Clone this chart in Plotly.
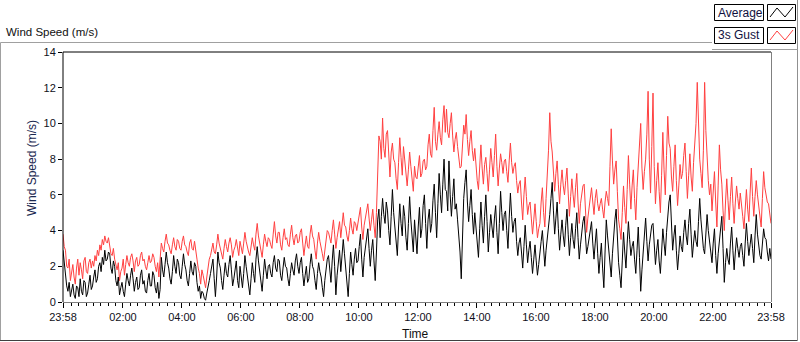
import pandas as pd
import plotly.graph_objects as go

# ---- data (2.5-minute samples, 23:58 -> 23:58 next day), one row per hour ----
start_time = "2024-05-01 23:58"
sample_step = "150s"

average = [
    2.9, 2.2, 1.4, 0.9, 0.6, 1.1, 0.3, 0.7, 1.0, 0.4, 0.2, 0.9, 0.8, 0.3, 1.3, 0.6, 0.4, 1.2, 1.1, 0.3, 0.5, 1.0, 1.5, 0.7,
    0.9, 1.4, 1.8, 1.1, 1.3, 2.0, 2.2, 1.7, 2.5, 2.1, 2.9, 2.3, 2.4, 2.8, 2.7, 1.9, 1.6, 2.3, 2.0, 1.2, 0.9, 1.4, 0.4, 0.8,
    1.1, 0.6, 0.3, 1.0, 1.6, 1.2, 0.9, 1.5, 1.9, 1.3, 0.6, 1.1, 1.4, 0.7, 0.8, 1.5, 1.8, 1.0, 1.2, 0.6, 0.5, 1.2, 1.6, 0.9,
    0.9, 1.7, 1.5, 0.8, 0.5, 1.1, 0.2, 0.7, 2.5, 1.8, 1.4, 2.1, 2.8, 2.2, 1.9, 1.3, 1.0, 1.7, 2.6, 2.0, 1.6, 2.4, 2.2, 1.5,
    1.3, 2.0, 2.7, 2.1, 1.8, 1.2, 0.9, 1.6, 2.3, 1.7, 1.5, 2.2, 2.0, 1.1, 0.6, 0.9, 0.2, 0.6, 0.5, 0.2, 0.1, 0.5, 0.8, 1.2,
    1.6, 2.1, 2.4, 1.3, 0.3, 1.4, 2.8, 2.2, 1.9, 1.2, 0.7, 1.5, 2.2, 1.6, 1.4, 2.1, 2.6, 1.8, 0.9, 1.3, 1.8, 2.3, 1.2, 0.8,
    2.0, 1.4, 0.8, 1.6, 2.6, 2.0, 1.5, 0.9, 0.4, 1.3, 2.2, 1.6, 1.1, 2.4, 3.1, 2.3, 1.7, 1.0, 0.6, 1.5, 2.4, 1.8, 1.3, 2.0,
    2.1, 1.6, 1.4, 2.2, 2.6, 1.9, 1.7, 2.4, 2.3, 1.5, 1.2, 1.9, 2.5, 2.0, 1.9, 1.3, 0.9, 1.6, 2.2, 1.8, 1.5, 2.3, 2.7, 2.0,
    1.6, 2.2, 2.5, 1.6, 0.9, 1.5, 2.0, 1.1, 1.3, 2.1, 2.7, 2.0, 1.8, 1.2, 0.7, 1.6, 2.2, 1.7, 1.4, 0.8, 0.3, 1.2, 1.9, 2.4,
    2.6, 1.8, 1.1, 2.3, 3.2, 2.0, 0.4, 1.5, 2.4, 2.9, 1.7, 2.5, 3.5, 2.7, 2.0, 1.1, 0.3, 1.6, 2.8, 2.1, 1.5, 2.4, 3.0, 2.2,
    2.3, 3.1, 3.8, 2.4, 1.4, 2.5, 3.0, 3.7, 4.1, 3.0, 2.0, 2.9, 3.5, 2.3, 1.2, 2.8, 4.6, 5.2, 3.6, 4.8, 5.8, 4.9, 4.4, 5.6,
    5.1, 4.0, 3.2, 4.8, 6.3, 5.0, 4.0, 3.1, 2.6, 4.2, 5.5, 4.4, 3.7, 5.4, 4.8, 3.6, 2.9, 4.4, 5.9, 4.6, 3.4, 2.8, 4.6, 3.5,
    2.7, 4.2, 5.3, 3.6, 4.1, 5.4, 6.0, 4.4, 3.0, 4.6, 5.2, 3.9, 4.4, 5.7, 6.6, 5.0, 3.6, 5.5, 7.2, 6.0, 5.0, 6.6, 8.0, 6.3,
    6.2, 5.1, 7.9, 6.0, 4.8, 5.9, 6.9, 5.2, 5.5, 4.6, 3.9, 2.8, 1.3, 4.0, 5.8, 6.7, 7.4, 5.6, 4.5, 5.4, 6.3, 4.9, 3.8, 5.0,
    4.2, 3.2, 2.5, 4.1, 5.6, 4.3, 3.3, 4.8, 6.0, 4.5, 2.8, 3.9, 4.9, 4.2, 3.6, 4.7, 5.4, 3.9, 2.7, 4.4, 6.2, 5.0, 4.0, 4.9,
    5.1, 4.0, 3.0, 4.7, 6.1, 4.8, 3.9, 4.5, 4.7, 3.4, 2.6, 3.3, 3.6, 2.8, 1.9, 3.1, 4.3, 3.2, 2.2, 2.9, 3.4, 2.5, 1.6, 2.4,
    3.2, 2.3, 1.5, 2.1, 2.6, 3.4, 4.0, 2.8, 2.0, 2.9, 3.5, 4.3, 4.9, 5.8, 6.7, 5.1, 3.8, 4.7, 5.6, 4.1, 2.9, 3.8, 4.6, 3.7,
    3.1, 4.3, 5.2, 3.8, 2.6, 3.6, 4.4, 3.5, 3.0, 4.1, 5.0, 3.6, 2.4, 3.2, 3.9, 4.5, 4.8, 3.6, 2.7, 3.1, 3.6, 4.2, 4.5, 3.3,
    2.4, 3.3, 4.1, 2.7, 1.6, 2.5, 3.3, 1.9, 0.8, 2.8, 4.6, 3.7, 3.0, 2.1, 1.4, 2.7, 3.8, 4.6, 5.2, 3.6, 2.2, 1.5, 0.8, 2.3,
    3.9, 2.8, 1.9, 3.3, 4.5, 3.5, 2.6, 3.1, 3.4, 2.4, 1.6, 2.9, 4.2, 2.5, 0.6, 1.8, 3.0, 4.1, 4.7, 3.4, 2.3, 3.2, 3.8, 4.3,
    4.4, 3.0, 2.1, 2.9, 3.5, 2.3, 1.6, 2.8, 4.1, 3.3, 2.6, 3.9, 5.0, 5.6, 6.0, 4.2, 2.9, 3.7, 4.3, 2.9, 1.8, 2.7, 3.7, 3.1,
    2.8, 3.9, 4.6, 3.7, 3.2, 4.4, 5.2, 3.8, 2.5, 3.3, 4.0, 3.4, 3.1, 4.5, 5.8, 4.6, 3.6, 3.0, 2.7, 3.9, 4.9, 4.0, 3.3, 2.6,
    2.2, 3.3, 4.1, 2.6, 1.6, 2.7, 3.4, 4.2, 4.8, 3.0, 1.1, 2.2, 3.0, 2.4, 2.1, 3.3, 4.2, 2.9, 1.8, 2.8, 3.6, 3.0, 2.5, 3.1,
    3.3, 2.6, 2.0, 3.3, 4.4, 3.4, 2.6, 3.2, 3.8, 3.0, 2.2, 3.7, 4.9, 3.8, 3.0, 2.6, 2.4, 3.3, 4.1, 3.6, 3.5, 2.8, 2.3, 3.0,
    2.4,
]

gust_3s = [
    3.8, 3.1, 2.9, 2.0, 1.9, 2.4, 1.2, 1.7, 2.1, 1.4, 1.0, 1.9, 2.4, 1.5, 2.2, 1.8, 1.3, 2.3, 2.5, 1.7, 1.6, 2.2, 2.4, 1.9,
    2.3, 2.0, 2.6, 2.3, 2.9, 2.6, 3.2, 2.9, 3.5, 3.2, 3.7, 3.4, 3.3, 3.6, 3.0, 2.7, 2.6, 3.0, 2.4, 2.0, 1.8, 2.2, 1.2, 1.7,
    1.9, 2.4, 1.5, 2.1, 2.6, 2.2, 2.0, 2.5, 2.7, 2.3, 1.7, 2.3, 2.5, 2.0, 2.1, 2.6, 2.8, 2.3, 2.4, 2.0, 1.8, 2.2, 2.6, 2.2,
    2.3, 2.7, 2.5, 2.0, 1.7, 2.2, 1.4, 2.4, 3.3, 3.0, 2.8, 3.4, 3.8, 3.3, 3.2, 2.9, 2.7, 3.2, 3.6, 3.1, 2.9, 3.5, 3.4, 3.0,
    2.9, 3.4, 3.7, 3.2, 3.1, 2.8, 2.6, 3.3, 3.5, 3.0, 2.9, 3.4, 3.0, 2.4, 1.9, 1.6, 1.0, 1.8, 1.5, 1.1, 0.8, 1.4, 2.0, 2.4,
    2.6, 3.1, 3.3, 2.8, 2.7, 3.2, 3.8, 3.3, 3.0, 2.8, 2.4, 3.0, 3.5, 3.1, 2.8, 3.3, 3.6, 3.2, 2.5, 2.9, 3.1, 3.5, 2.9, 2.6,
    3.4, 3.0, 2.7, 3.3, 3.9, 3.4, 3.0, 2.8, 2.6, 3.1, 3.6, 3.2, 2.9, 3.8, 4.4, 3.7, 3.3, 2.9, 2.5, 3.2, 3.8, 3.4, 3.1, 3.6,
    3.5, 3.2, 3.0, 3.8, 4.5, 3.7, 3.3, 3.9, 3.9, 3.2, 2.9, 3.6, 4.1, 3.5, 3.6, 3.2, 3.1, 3.8, 4.3, 3.6, 3.2, 3.7, 3.8, 3.3,
    3.4, 3.9, 4.1, 3.3, 2.6, 3.2, 3.7, 3.1, 3.0, 3.8, 4.3, 3.7, 3.5, 2.9, 2.4, 3.3, 3.9, 3.4, 3.1, 2.7, 2.3, 3.0, 3.6, 4.0,
    3.9, 3.5, 3.3, 4.0, 4.6, 3.8, 3.0, 3.6, 4.1, 4.5, 3.6, 4.2, 5.0, 4.3, 4.2, 3.7, 3.4, 4.0, 4.7, 4.1, 3.8, 4.5, 4.4, 4.0,
    4.4, 5.0, 5.3, 4.2, 3.5, 4.3, 4.8, 5.3, 5.5, 4.7, 4.0, 4.6, 5.2, 4.3, 3.6, 5.0, 7.6, 9.3, 9.0, 8.0, 10.3, 8.6, 8.1, 9.4,
    9.6, 8.2, 7.0, 8.4, 8.9, 8.0, 7.8, 6.9, 6.3, 7.8, 9.2, 8.1, 7.1, 8.7, 8.0, 7.2, 6.5, 7.4, 8.4, 7.6, 6.9, 6.2, 7.6, 7.0,
    6.9, 7.7, 8.2, 7.0, 7.2, 7.9, 8.0, 7.4, 7.6, 8.8, 9.4, 8.3, 8.1, 9.6, 10.9, 9.0, 8.5, 9.4, 10.1, 9.2, 8.8, 10.2, 11.0, 9.5,
    10.8, 9.5, 9.2, 10.0, 10.6, 9.3, 8.4, 9.1, 9.5, 8.7, 8.0, 7.5, 7.6, 8.8, 9.9, 9.4, 10.5, 9.1, 8.2, 9.0, 9.6, 8.5, 7.9, 8.6,
    7.4, 6.8, 6.3, 7.6, 8.8, 7.5, 6.6, 7.7, 8.1, 7.2, 6.2, 7.4, 8.6, 7.8, 7.0, 8.2, 9.4, 7.6, 6.5, 7.5, 8.3, 7.8, 7.2, 7.9,
    8.0, 7.3, 6.7, 7.9, 8.9, 7.8, 7.2, 7.6, 7.8, 6.8, 6.1, 6.6, 6.8, 5.6, 4.6, 6.0, 7.0, 5.9, 4.9, 5.4, 5.6, 4.7, 3.8, 4.6,
    5.5, 4.5, 3.6, 4.1, 4.4, 5.6, 6.4, 5.0, 4.2, 5.8, 7.0, 8.5, 10.6, 9.0, 8.4, 7.1, 6.2, 7.2, 7.9, 6.6, 5.5, 6.6, 7.4, 6.5,
    6.0, 6.8, 7.5, 6.1, 4.8, 5.9, 6.9, 6.0, 5.3, 6.4, 7.2, 5.6, 4.4, 5.5, 6.1, 6.5, 6.6, 5.1, 3.9, 4.7, 5.2, 5.9, 6.4, 5.6,
    4.9, 5.8, 6.3, 5.5, 5.1, 5.5, 5.8, 5.2, 4.7, 5.6, 6.2, 5.8, 5.4, 7.6, 9.7, 7.9, 6.6, 7.4, 7.9, 6.2, 4.6, 4.1, 3.5, 5.0,
    6.5, 5.3, 4.4, 6.3, 8.2, 6.6, 5.2, 6.5, 7.4, 5.8, 4.6, 6.4, 7.8, 8.6, 10.0, 7.5, 6.3, 7.3, 8.0, 9.4, 11.8, 8.0, 6.1, 8.7,
    11.7, 7.6, 5.5, 6.8, 7.8, 6.2, 5.0, 7.1, 9.5, 7.4, 6.0, 8.2, 10.4, 8.9, 8.6, 7.0, 6.2, 7.6, 8.8, 6.8, 5.4, 6.5, 7.7, 6.9,
    7.2, 8.2, 8.9, 7.3, 5.8, 7.1, 8.3, 7.0, 6.2, 7.8, 9.1, 10.0, 12.3, 9.4, 8.0, 7.2, 6.4, 8.5, 12.3, 9.6, 7.6, 6.8, 6.0, 6.6,
    5.1, 6.4, 7.3, 5.6, 4.2, 6.5, 8.8, 7.4, 6.6, 5.1, 4.0, 5.6, 6.9, 5.7, 4.6, 5.9, 7.0, 5.5, 4.4, 5.6, 6.5, 5.8, 5.2, 6.1,
    5.6, 4.8, 4.1, 5.4, 6.3, 5.2, 4.5, 6.1, 7.5, 5.9, 4.8, 5.9, 6.8, 6.0, 5.3, 4.7, 4.2, 5.8, 7.3, 6.4, 5.9, 5.6, 5.5, 5.0,
    4.4,
]

x_tick_times = ["2024-05-01 23:58", "2024-05-02 02:00", "2024-05-02 04:00",
                "2024-05-02 06:00", "2024-05-02 08:00", "2024-05-02 10:00",
                "2024-05-02 12:00", "2024-05-02 14:00", "2024-05-02 16:00",
                "2024-05-02 18:00", "2024-05-02 20:00", "2024-05-02 22:00",
                "2024-05-02 23:58"]
x_tick_labels = ["23:58", "02:00", "04:00", "06:00", "08:00", "10:00", "12:00",
                 "14:00", "16:00", "18:00", "20:00", "22:00", "23:58"]
y_ticks = [0, 2, 4, 6, 8, 10, 12, 14]

times = pd.date_range(start_time, periods=len(average), freq=sample_step)

# ---- layout geometry (pixels) ----
W, H = 800, 342
L, R, T, B = 63, 771, 52, 302

def px(x):
    return (x - L) / (R - L)

def py(y):
    return (B - y) / (B - T)

FONT = "Liberation Sans, Arial, sans-serif"

fig = go.Figure()
fig.add_trace(go.Scatter(x=times, y=gust_3s, mode="lines", name="3s Gust",
                         line=dict(color="#ff4040", width=1)))
fig.add_trace(go.Scatter(x=times, y=average, mode="lines", name="Average",
                         line=dict(color="#000000", width=1)))

shapes = []
def seg(x0, y0, x1, y1, color, w=1):
    shapes.append(dict(type="line", xref="paper", yref="paper",
                       x0=px(x0), y0=py(y0), x1=px(x1), y1=py(y1),
                       line=dict(color=color, width=w), layer="above"))

# outer frame
seg(0.5, 42.5, 712, 42.5, "#a0a0a0")
seg(0.5, 42.5, 0.5, 341, "#a0a0a0")
seg(0, 340.5, 797, 340.5, "#404040")
seg(797.5, 0, 797.5, 341, "#909090")
seg(712, 49.5, 797.5, 49.5, "#a0a0a0")
# plot area frame
seg(L, T, R, T, "#000000")
seg(L, T, L, B, "#000000")
seg(L, B + 0.5, R, B + 0.5, "#808080")
seg(R + 0.5, T, R + 0.5, B, "#808080")

# legend boxes
def box(x0, y0, x1, y1, color="#000000"):
    shapes.append(dict(type="rect", xref="paper", yref="paper",
                       x0=px(x0), y0=py(y1), x1=px(x1), y1=py(y0),
                       line=dict(color=color, width=1), fillcolor="white",
                       layer="above"))

box(714.5, 4.5, 763.5, 20.5)
box(767.5, 4.5, 795.5, 20.5)
box(714.5, 27.5, 763.5, 43.5)
box(767.5, 27.5, 795.5, 43.5)

def zigzag(yoff, color):
    pts = [(770, 17), (777, 8), (785, 17), (793, 7)]
    path = "M " + " L ".join(f"{px(x)},{py(y + yoff)}" for x, y in pts)
    shapes.append(dict(type="path", xref="paper", yref="paper", path=path,
                       line=dict(color=color, width=1), layer="above"))

zigzag(0, "#000000")
zigzag(23, "#ff4040")

annotations = [
    dict(text="Wind Speed (m/s)", x=px(4), y=py(32), xanchor="left", yanchor="middle",
         font=dict(family=FONT, size=11.5, color="#101010")),
    dict(text="Wind Speed (m/s)", x=px(32), y=py(168), xanchor="center", yanchor="middle",
         textangle=-90, font=dict(family=FONT, size=12, color="#1a2850")),
    dict(text="Time", x=px(415.5), y=py(333.5), xanchor="center", yanchor="middle",
         font=dict(family=FONT, size=12, color="#101010")),
    dict(text="Average", x=px(716), y=py(12.5), xanchor="left", yanchor="middle",
         font=dict(family=FONT, size=12, color="#101040")),
    dict(text="3s Gust", x=px(716), y=py(35.5), xanchor="left", yanchor="middle",
         font=dict(family=FONT, size=12, color="#101040")),
]
for a in annotations:
    a.update(xref="paper", yref="paper", showarrow=False)

fig.update_layout(
    width=W, height=H,
    margin=dict(l=L, r=W - R, t=T, b=H - B, pad=0),
    paper_bgcolor="white", plot_bgcolor="white",
    showlegend=False,
    shapes=shapes, annotations=annotations,
    xaxis=dict(type="date", range=[x_tick_times[0], x_tick_times[-1]],
               tickmode="array", tickvals=x_tick_times, ticktext=x_tick_labels,
               ticks="outside", ticklen=5, tickwidth=1, tickcolor="#000000",
               tickfont=dict(family=FONT, size=11, color="#101020"),
               showgrid=False, zeroline=False, showline=False,
               minor=dict(ticks="outside", ticklen=3, tickwidth=1, tickcolor="#000000",
                          tickmode="linear", tick0="2024-05-02 00:00", dtick=900000,
                          showgrid=False)),
    yaxis=dict(range=[0, 14], tickmode="array", tickvals=y_ticks,
               ticks="outside", ticklen=4, tickwidth=1, tickcolor="#000000",
               tickfont=dict(family=FONT, size=11, color="#101020"),
               showgrid=False, zeroline=False, showline=False),
)

fig.write_html("out.html", config={"displayModeBar": False},
               post_script="document.body.style.margin='0px';document.body.style.overflow='hidden';")
